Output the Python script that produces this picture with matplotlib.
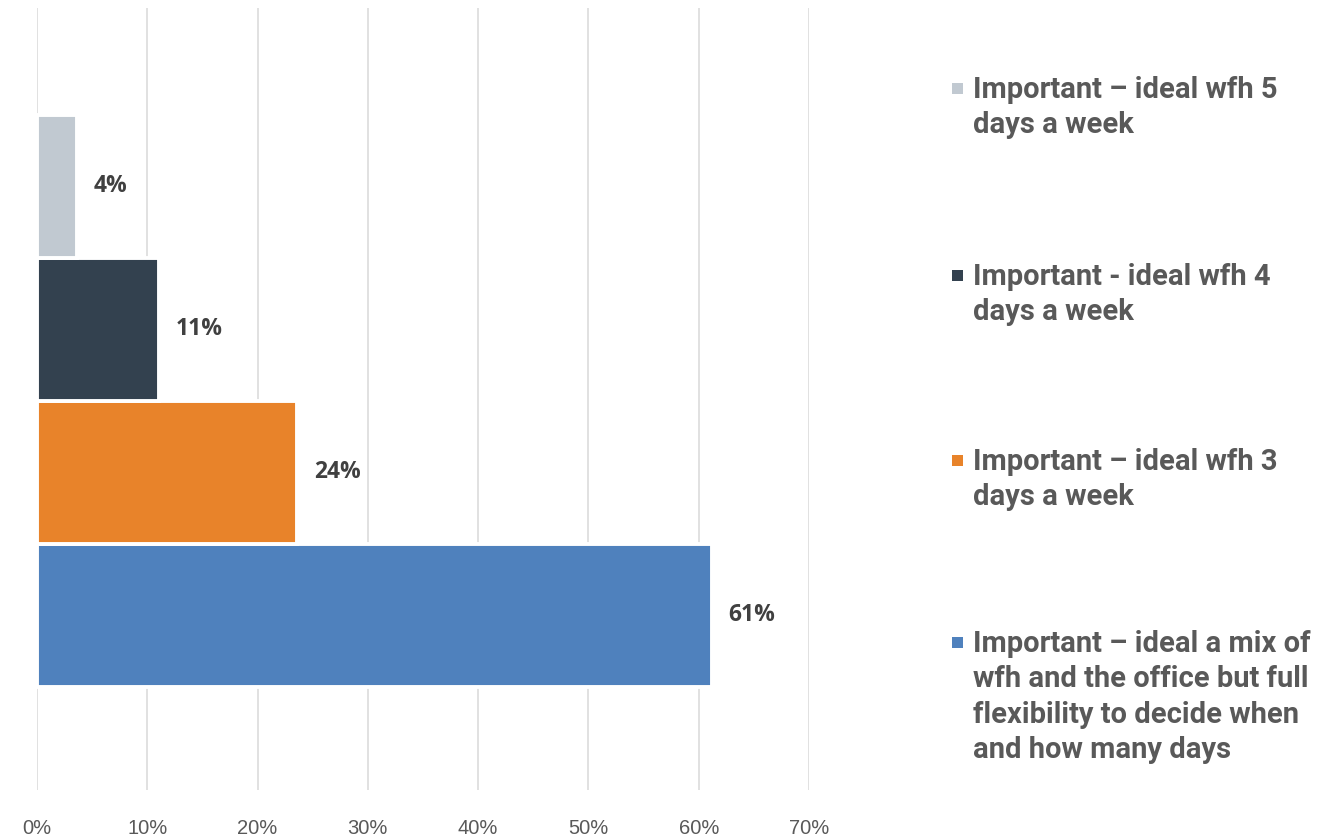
#!/usr/bin/env python3
"""Horizontal bar chart of ideal work-from-home preferences"""
import matplotlib
matplotlib.use("Agg")
import matplotlib.pyplot as plt
from matplotlib.patches import Rectangle

# bottom to top, as drawn
categories = [
    "Important \u2013 ideal a mix of\nwfh and the office but full\nflexibility to decide when\nand how many days",
    "Important \u2013 ideal wfh 3\ndays a week",
    "Important - ideal wfh 4\ndays a week",
    "Important \u2013 ideal wfh 5\ndays a week",
]
values = [61.2, 23.6, 11.1, 3.6]
value_labels = ["61%", "24%", "11%", "4%"]
colors = ["#4F81BD", "#E8832A", "#33414F", "#C1C9D1"]
x_ticks = [0, 10, 20, 30, 40, 50, 60, 70]
x_tick_labels = ["0%", "10%", "20%", "30%", "40%", "50%", "60%", "70%"]

fig = plt.figure(figsize=(13.39, 8.36), dpi=100)
ax = fig.add_axes([37 / 1339, 1 - 790 / 836, (809 - 37) / 1339, (790 - 8) / 836])

ypos = list(range(len(values)))
ax.barh(ypos, values, height=1.0, color=colors, edgecolor="white",
        linewidth=2.8, zorder=3)

# value labels just right of each bar
for y, v, lab in zip(ypos, values, value_labels):
    ax.annotate(lab, xy=(v, y), xytext=(12, 0), textcoords="offset points",
                ha="left", va="center", fontsize=16.5, fontweight="bold",
                color="#404040", family=["Open Sans", "DejaVu Sans"])

ax.set_xlim(0, 70)
ax.set_ylim(-1.22, 3 + 1.245)
ax.set_xticks(x_ticks)
ax.set_xticklabels(x_tick_labels, family=["Liberation Sans Narrow", "Liberation Sans"],
                   fontsize=14.5, color="#595959")
ax.set_yticks([])
ax.tick_params(axis="x", length=0, pad=21)
ax.grid(axis="x", color="#D9D9D9", linewidth=1.1, zorder=0)
ax.set_axisbelow(True)
for s in ax.spines.values():
    s.set_visible(False)

# legend drawn by hand, top entry first
legend_y = [88, 275, 460, 642]
for cat, col, ly in zip(categories[::-1], colors[::-1], legend_y):
    fig.patches.append(Rectangle((952 / 1339, 1 - (ly + 6) / 836), 11 / 1339, 11 / 836,
                                 transform=fig.transFigure, facecolor=col,
                                 edgecolor="none"))
    fig.text(973 / 1339, 1 - (ly - 12) / 836, cat, ha="left", va="top",
             fontsize=21, fontweight="bold", color="#595959",
             family=["Roboto", "DejaVu Sans"], linespacing=1.33)

fig.savefig("out.png", dpi=100)
